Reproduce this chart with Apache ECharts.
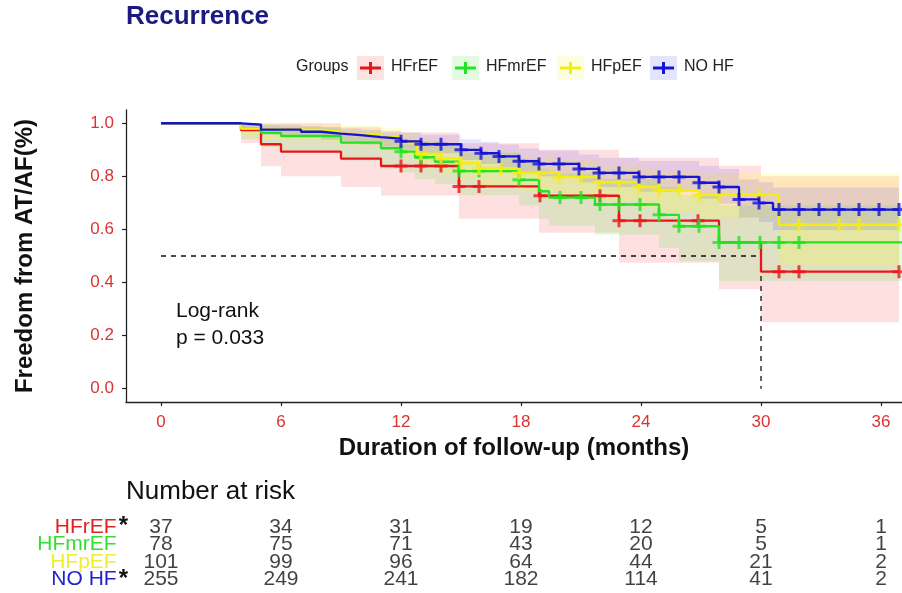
<!DOCTYPE html>
<html><head><meta charset="utf-8">
<script src="https://cdn.jsdelivr.net/npm/echarts@6/dist/echarts.min.js"></script>
<style>html,body{margin:0;padding:0;background:#fff}#c{width:902px;height:593px}</style>
</head><body><div id="c"></div>
<script>
// ---------------- data ----------------
const groups = ['HFrEF', 'HFmrEF', 'HFpEF', 'NO HF'];

const redTimes  = [0, 4, 5, 6, 9, 11, 14.9, 18.9, 22.9, 27.9, 30];
const redSurv   = [1, 0.974, 0.921, 0.893, 0.867, 0.839, 0.762, 0.727, 0.633, 0.551, 0.441];
const redLower  = [1, 0.926, 0.838, 0.80, 0.76, 0.728, 0.64, 0.588, 0.475, 0.375, 0.25];
const redUpper  = [1, 1, 1, 1, 0.985, 0.965, 0.925, 0.90, 0.87, 0.84, 0.80];
const redEnd    = 36.9;
const redCensor = [12, 13, 14, 14.9, 15.9, 18.95, 21.95, 22.9, 23.95, 26.85, 30.9, 31.9, 36.9];

const greenTimes  = [0, 4, 5, 6, 9, 11, 12, 12.7, 13.7, 14.9, 17.9, 18.9, 19.4, 21.7, 24.9, 25.9, 27.9];
const greenSurv   = [1, 0.98, 0.964, 0.952, 0.927, 0.906, 0.893, 0.872, 0.855, 0.82, 0.787, 0.744, 0.72, 0.694, 0.655, 0.612, 0.551];
const greenLower  = [1, 0.94, 0.91, 0.89, 0.86, 0.83, 0.815, 0.79, 0.77, 0.73, 0.69, 0.64, 0.615, 0.58, 0.53, 0.48, 0.406];
const greenUpper  = [1, 1, 0.99, 0.985, 0.965, 0.95, 0.94, 0.93, 0.92, 0.89, 0.865, 0.83, 0.81, 0.79, 0.76, 0.73, 0.69];
const greenEnd    = 37.05;
const greenCensor = [12, 13, 14.9, 15.9, 17.9, 19.95, 21, 21.95, 22.9, 23.95, 24.9, 25.9, 26.9, 27.9, 28.9, 29.95, 30.9, 31.9];

const yellowTimes  = [0, 4, 5, 8, 9, 11, 12, 12.8, 14, 15, 15.9, 17.9, 19.9, 21.9, 23.9, 24.9, 26.9, 30.9];
const yellowSurv   = [1, 0.98, 0.975, 0.968, 0.96, 0.95, 0.925, 0.885, 0.868, 0.85, 0.83, 0.813, 0.798, 0.778, 0.76, 0.748, 0.73, 0.618];
const yellowLower  = [1, 0.95, 0.94, 0.93, 0.92, 0.905, 0.875, 0.83, 0.81, 0.79, 0.765, 0.745, 0.727, 0.703, 0.68, 0.665, 0.642, 0.463];
const yellowUpper  = [1, 1, 1, 0.995, 0.99, 0.985, 0.965, 0.935, 0.92, 0.905, 0.89, 0.875, 0.862, 0.845, 0.83, 0.82, 0.81, 0.81];
const yellowEnd    = 36.9;
const yellowCensor = [13, 14, 15, 15.9, 17, 17.9, 18.9, 19.9, 21, 21.9, 22.9, 23.9, 24.9, 25.9, 26.9, 27.9, 28.9, 29.9, 31.9, 33.9, 34.9, 36.9];

const blueTimes  = [0, 4, 5, 7, 8, 9, 10, 11, 12, 13, 15, 16, 16.9, 17.9, 18.9, 20.9, 21.9, 23.9, 26.9, 27.9, 28.9, 29.9, 30.6];
const blueSurv   = [1, 0.995, 0.976, 0.968, 0.961, 0.955, 0.948, 0.942, 0.932, 0.921, 0.90, 0.887, 0.875, 0.857, 0.847, 0.828, 0.813, 0.798, 0.776, 0.76, 0.713, 0.70, 0.675];
const blueLower  = [1, 0.985, 0.957, 0.947, 0.938, 0.93, 0.92, 0.912, 0.90, 0.887, 0.862, 0.847, 0.833, 0.813, 0.80, 0.778, 0.76, 0.742, 0.716, 0.697, 0.645, 0.628, 0.598];
const blueUpper  = [1, 1, 0.995, 0.99, 0.985, 0.98, 0.976, 0.972, 0.965, 0.957, 0.94, 0.93, 0.92, 0.905, 0.897, 0.882, 0.87, 0.858, 0.84, 0.828, 0.788, 0.778, 0.758];
const blueEnd    = 36.9;
const blueCensor = [12, 13, 14, 15, 16, 16.9, 17.9, 18.9, 19.9, 20.9, 21.9, 22.9, 23.9, 24.9, 25.9, 26.9, 27.9, 28.9, 29.9, 30.9, 31.9, 32.9, 33.9, 34.9, 35.9, 36.9];

const medianTime = 30;
const medianSurv = 0.5;

const xTicks = [0, 6, 12, 18, 24, 30, 36];
const yTicks = [0, 0.2, 0.4, 0.6, 0.8, 1.0];

const riskMonths  = [0, 6, 12, 18, 24, 30, 36];
const riskHFrEF   = [37, 34, 31, 19, 12, 5, 1];
const riskHFmrEF  = [78, 75, 71, 43, 20, 5, 1];
const riskHFpEF   = [101, 99, 96, 64, 44, 21, 2];
const riskNOHF    = [255, 249, 241, 182, 114, 41, 2];
const riskStar    = [true, false, false, true];

// ---------------- styling ----------------
const FONT = 'Liberation Sans, Arial, Helvetica, sans-serif';
const lineColors = ['#e8161a', '#22e422', '#f4ee10', '#1414d8'];
const bandColors = ['rgba(255,0,0,0.12)', 'rgba(0,230,0,0.12)', 'rgba(255,255,0,0.16)', 'rgba(0,0,255,0.10)'];
const tintColors = ['#fde2e2', '#e2fbe2', '#fdfde0', '#e4e4fb'];
const textColors = ['#dd2222', '#33dd33', '#eeee33', '#2222cc'];
const tickColor = '#dc3232';

const T = [redTimes, greenTimes, yellowTimes, blueTimes];
const S = [redSurv, greenSurv, yellowSurv, blueSurv];
const L = [redLower, greenLower, yellowLower, blueLower];
const U = [redUpper, greenUpper, yellowUpper, blueUpper];
const E = [redEnd, greenEnd, yellowEnd, blueEnd];
const C = [redCensor, greenCensor, yellowCensor, blueCensor];
const R = [riskHFrEF, riskHFmrEF, riskHFpEF, riskNOHF];

function survAt(g, t) {
  let v = S[g][0];
  for (let k = 0; k < T[g].length; k++) if (T[g][k] <= t + 1e-9) v = S[g][k];
  return v;
}

const X_MIN = -1.75, X_MAX = 37.05;
const series = [];

// confidence bands
groups.forEach((name, g) => {
  const times = T[g], lo = L[g], hi = U[g], end = E[g];
  series.push({
    type: 'custom', name: name + ' CI', xAxisIndex: 0, yAxisIndex: 0, z: 1, silent: true, clip: true,
    data: times.map((t, k) => [t, lo[k], hi[k]]),
    encode: { x: 0, y: [1, 2] },
    renderItem: (params, api) => {
      if (params.dataIndex !== 0) return null;
      const pts = [];
      for (let k = 0; k < times.length; k++) {
        const x1 = k + 1 < times.length ? times[k + 1] : end;
        pts.push(api.coord([times[k], hi[k]]), api.coord([x1, hi[k]]));
      }
      for (let k = times.length - 1; k >= 0; k--) {
        const x1 = k + 1 < times.length ? times[k + 1] : end;
        pts.push(api.coord([x1, lo[k]]), api.coord([times[k], lo[k]]));
      }
      return { type: 'polygon', shape: { points: pts }, style: { fill: bandColors[g] } };
    }
  });
});

// median reference lines
series.push({
  type: 'line', name: 'median', xAxisIndex: 0, yAxisIndex: 0, z: 2, silent: true,
  data: [[0, medianSurv], [medianTime, medianSurv], [medianTime, 0]],
  showSymbol: false, symbol: 'none',
  lineStyle: { color: '#111', width: 1.3, type: [5, 5] }
});

// survival step curves + censor marks
const plusPath = 'path://M5,0H8V5H13V8H8V13H5V8H0V5H5Z';
groups.forEach((name, g) => {
  const pts = T[g].map((t, k) => [t, S[g][k]]);
  pts.push([E[g], S[g][S[g].length - 1]]);
  series.push({
    type: 'line', name: name, xAxisIndex: 0, yAxisIndex: 0, z: 3 + g,
    step: 'end', data: pts, showSymbol: false, symbol: 'none',
    lineStyle: { color: lineColors[g], width: 2.3 }
  });
  series.push({
    type: 'scatter', name: name + ' censor', xAxisIndex: 0, yAxisIndex: 0, z: 3 + g,
    data: C[g].map(t => [t, survAt(g, t)]),
    symbol: plusPath, symbolSize: 13,
    itemStyle: { color: lineColors[g] }
  });
});

// risk table
const riskData = [];
groups.forEach((name, g) => riskMonths.forEach((m, j) => riskData.push([m, g, R[g][j]])));
series.push({
  type: 'scatter', name: 'risk', xAxisIndex: 1, yAxisIndex: 1, silent: true,
  data: riskData, symbolSize: 0,
  label: { show: true, position: 'inside', formatter: p => String(p.value[2]),
           color: '#111', fontSize: 21, fontFamily: FONT }
});

const rich = { s: { color: '#111', fontSize: 24, fontWeight: 'bold', fontFamily: FONT, padding: [0, 0, 0, 2] },
               h: { color: 'rgba(0,0,0,0)', fontSize: 24, fontWeight: 'bold', fontFamily: FONT, padding: [0, 0, 0, 2] } };
groups.forEach((n, g) => rich['n' + g] = { color: textColors[g], fontSize: 21, fontFamily: FONT });

// legend (drawn as graphic)
const legBoxX = [357, 452, 557, 650];
const legCY = 68;
const legendGraphics = [{ type: 'text', left: 296, top: legCY - 9, style: { text: 'Groups', font: '16px ' + FONT, fill: '#222' } }];
groups.forEach((n, g) => {
  const x = legBoxX[g];
  legendGraphics.push({ type: 'rect', shape: { x: x, y: legCY - 12, width: 27, height: 24 }, style: { fill: tintColors[g] } });
  legendGraphics.push({ type: 'line', shape: { x1: x + 3, y1: legCY, x2: x + 24, y2: legCY }, style: { stroke: lineColors[g], lineWidth: 3 } });
  legendGraphics.push({ type: 'line', shape: { x1: x + 13.5, y1: legCY - 6, x2: x + 13.5, y2: legCY + 6 }, style: { stroke: lineColors[g], lineWidth: 3 } });
  legendGraphics.push({ type: 'text', left: x + 34, top: legCY - 9, style: { text: n, font: '16px ' + FONT, fill: '#222' } });
});

const option = {
  animation: false,
  backgroundColor: '#fff',
  textStyle: { fontFamily: FONT },
  title: { text: 'Recurrence', left: 126, top: 4, padding: 0,
           textStyle: { color: '#1a1a80', fontSize: 26, fontWeight: 'bold', fontFamily: FONT } },
  grid: [
    { left: 126, width: 776, top: 110, height: 292, containLabel: false },
    { left: 126, width: 776, top: 518, height: 70, containLabel: false }
  ],
  xAxis: [
    { type: 'value', gridIndex: 0, min: X_MIN, max: X_MAX,
      name: 'Duration of follow-up (months)', nameLocation: 'middle', nameGap: 34,
      nameTextStyle: { fontSize: 24, fontWeight: 'bold', color: '#111', fontFamily: FONT },
      axisLine: { show: true, onZero: false, lineStyle: { color: '#222', width: 1.3 } },
      axisTick: { show: true, length: 4, customValues: xTicks, lineStyle: { color: '#222', width: 1.2 } },
      axisLabel: { customValues: xTicks, color: tickColor, fontSize: 17, margin: 12, fontFamily: FONT },
      splitLine: { show: false } },
    { type: 'value', gridIndex: 1, min: X_MIN, max: X_MAX, show: false }
  ],
  yAxis: [
    { type: 'value', gridIndex: 0, min: -0.05, max: 1.05,
      name: 'Freedom from AT/AF(%)', nameLocation: 'middle', nameGap: 89,
      nameTextStyle: { fontSize: 24, fontWeight: 'bold', color: '#111', fontFamily: FONT },
      axisLine: { show: true, onZero: false, lineStyle: { color: '#222', width: 1.3 } },
      axisTick: { show: true, length: 4, customValues: yTicks, lineStyle: { color: '#222', width: 1.2 } },
      axisLabel: { customValues: yTicks, color: tickColor, fontSize: 17, margin: 12, fontFamily: FONT,
                   formatter: v => Number(v).toFixed(1) },
      splitLine: { show: false } },
    { type: 'category', gridIndex: 1, data: groups, inverse: true,
      axisLine: { show: false }, axisTick: { show: false }, splitLine: { show: false },
      axisLabel: { interval: 0, hideOverlap: false, margin: -2,
                   formatter: (v, i) => '{n' + i + '|' + v + '}{' + (riskStar[i] ? 's' : 'h') + '|*}', rich: rich } }
  ],
  graphic: legendGraphics.concat([
    { type: 'text', left: 176, top: 298, style: { text: 'Log-rank\np = 0.033', font: '21px ' + FONT, fill: '#111', lineHeight: 27 } },
    { type: 'text', left: 126, top: 479, style: { text: 'Number at risk', font: '26px ' + FONT, fill: '#111' } }
  ]),
  series: series
};

const chart = echarts.init(document.getElementById('c'), null, { renderer: 'canvas' });
chart.setOption(option);
</script>
</body></html>
